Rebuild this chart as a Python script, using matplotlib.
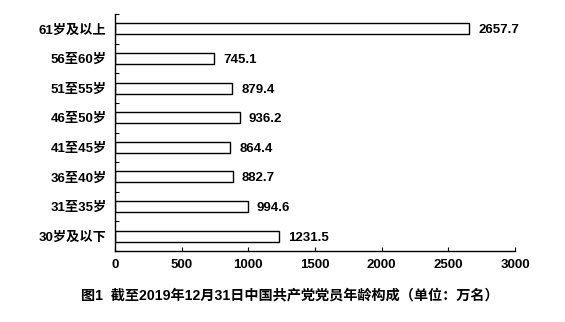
import matplotlib.pyplot as plt
import numpy as np

plt.rcParams['font.family'] = ['Liberation Sans', 'Noto Sans CJK SC', 'DejaVu Sans']
plt.rcParams['font.weight'] = 'bold'

# age groups, bottom to top
groups = ['30岁及以下', '31至35岁', '36至40岁', '41至45岁', '46至50岁', '51至55岁', '56至60岁', '61岁及以上']
members = [1231.5, 994.6, 882.7, 864.4, 936.2, 879.4, 745.1, 2657.7]
xticks = [0, 500, 1000, 1500, 2000, 2500, 3000]
title = '图1  截至2019年12月31日中国共产党党员年龄构成（单位：万名）'

fig = plt.figure(figsize=(5.65, 3.22), dpi=100)
ax = fig.add_axes([0.2035, 0.2205, 0.708, 0.736])

y = np.arange(len(groups))
ax.barh(y, members, height=0.37, color='white', edgecolor='black', linewidth=1.0)

for yi, v in zip(y, members):
    ax.text(v + 68, yi, f'{v}', va='center_baseline', ha='left', fontsize=9.5, fontweight='bold')

ax.set_xlim(0, 3000)
ax.set_ylim(-0.5, len(groups) - 0.5)
ax.set_xticks(xticks)
ax.set_xticklabels([str(t) for t in xticks], fontsize=9.5, fontweight='bold')
ax.set_yticks(y)
ax.set_yticklabels(groups, fontsize=9.5, fontweight='bold')
ax.set_yticks(np.arange(-0.5, len(groups), 1.0), minor=True)

ax.tick_params(axis='y', which='major', length=0, pad=6)
ax.tick_params(axis='y', which='minor', direction='in', length=3, width=0.8)
ax.tick_params(axis='x', direction='in', length=3, width=0.8, pad=6)

for side in ['top', 'right']:
    ax.spines[side].set_visible(False)
for side in ['left', 'bottom']:
    ax.spines[side].set_linewidth(1.0)

fig.text(0.513, 0.083, title, ha='center', va='center', fontsize=10.2, fontweight='bold')

fig.savefig('out.png', dpi=100)
